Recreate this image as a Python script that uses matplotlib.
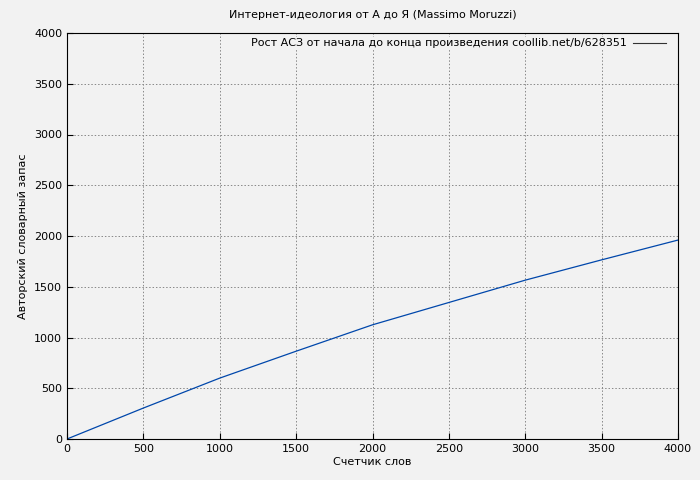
import matplotlib
matplotlib.use('Agg')
import matplotlib.pyplot as plt

# data
words = [0, 500, 1000, 1500, 2000, 2500, 3000, 3500, 4000]
vocab = [0, 305, 600, 865, 1125, 1345, 1565, 1765, 1960]

title = 'Интернет-идеология от А до Я (Massimo Moruzzi)'
legend_label = 'Рост АСЗ от начала до конца произведения coollib.net/b/628351'

fig = plt.figure(figsize=(7, 4.8), dpi=100, facecolor='#f2f2f2')
ax = fig.add_axes([67/700, 41/480, 611/700, 406/480])
ax.set_facecolor('#f2f2f2')

ax.plot(words, vocab, color='#0047ab', linewidth=0.9)

ax.set_xlim(0, 4000)
ax.set_ylim(0, 4000)
ax.set_xticks(range(0, 4001, 500))
ax.set_yticks(range(0, 4001, 500))
ax.tick_params(labelsize=8, direction='in', length=4)
ax.grid(True, color='#888888', linestyle=(0, (1.5, 2)), linewidth=0.7)
for s in ax.spines.values():
    s.set_linewidth(0.8)

ax.set_title(title, fontsize=8, pad=11)
ax.set_xlabel('Счетчик слов', fontsize=8, labelpad=2)
ax.set_ylabel('Авторский словарный запас', fontsize=8)

# gnuplot-style key in the top right corner
ax.text(0.916, 0.975, legend_label, transform=ax.transAxes, fontsize=8,
        ha='right', va='center', bbox=dict(facecolor='#f2f2f2', edgecolor='none', pad=1))
ax.plot([0.927, 0.980], [0.975, 0.975], transform=ax.transAxes, color='#333333', linewidth=0.8)

fig.savefig('out.png', dpi=100, facecolor=fig.get_facecolor())
